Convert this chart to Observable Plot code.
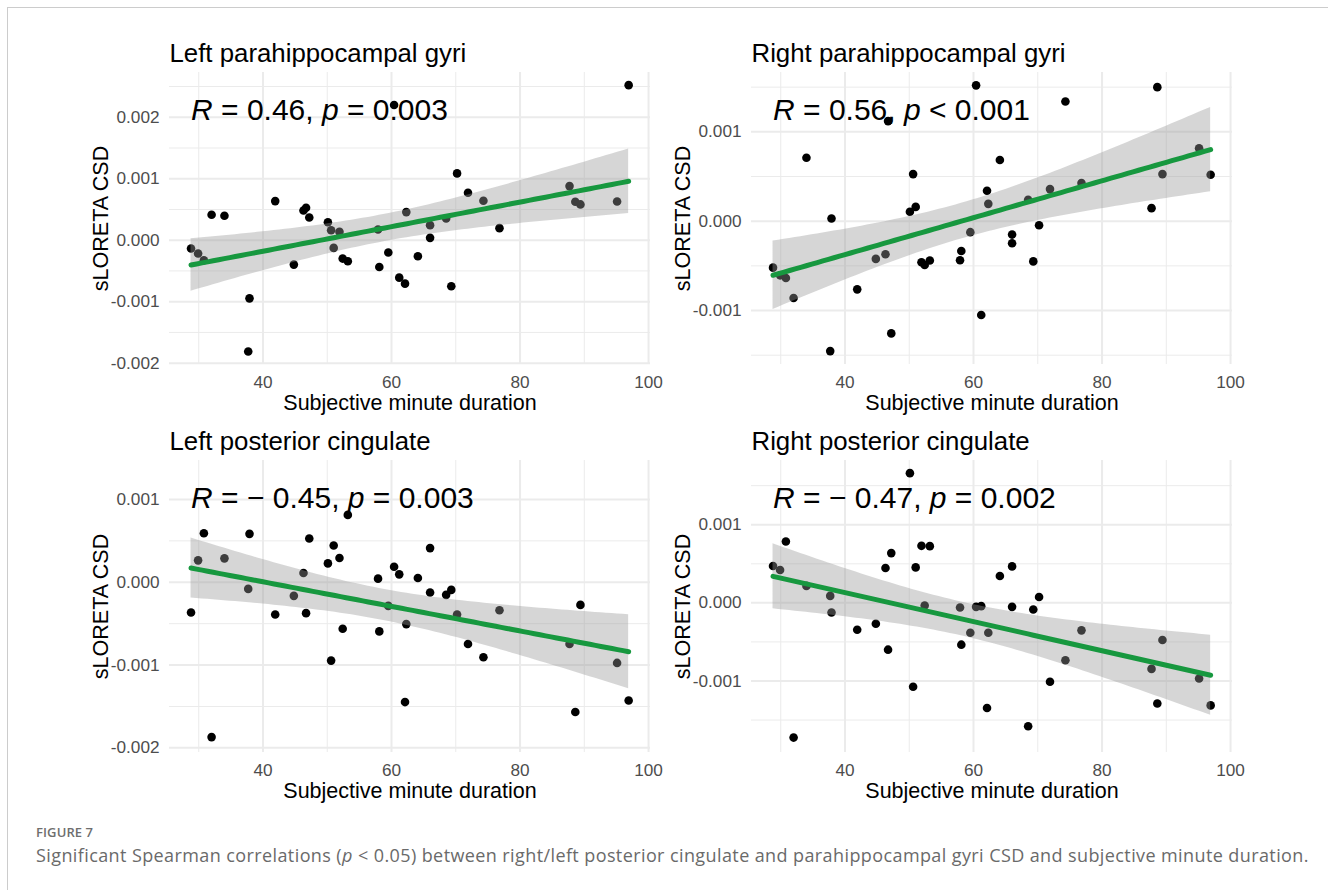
<!DOCTYPE html>
<html>
<head>
<meta charset="utf-8">
<script src="https://cdn.jsdelivr.net/npm/d3@7"></script>
<script src="https://cdn.jsdelivr.net/npm/@observablehq/plot@0.6"></script>
<style>
html, body { margin: 0; padding: 0; background: #fff; }
#wrap { position: relative; width: 1328px; height: 890px; overflow: hidden; background: #fff; }
#frame { position: absolute; left: 7px; top: 7px; right: 0; bottom: 0; border-left: 1px solid #cccccc; border-top: 1px solid #cccccc; }
.panel { position: absolute; }
.panel svg { overflow: visible; background: transparent; }
#figlabel { position: absolute; left: 36px; top: 825px; font-family: "Open Sans", "Noto Sans", sans-serif; font-size: 13px; line-height: 14px; font-weight: 600; color: #6e6e6e; letter-spacing: 0.1px; }
#figcaption { position: absolute; left: 36px; top: 846px; font-family: "Open Sans", "Noto Sans", sans-serif; font-size: 18px; line-height: 18px; letter-spacing: 0.4px; color: #6a6a6a; white-space: nowrap; }
</style>
</head>
<body>
<div id="wrap">
  <div id="frame"></div>
  <div class="panel" id="p0" style="left:0px;top:0px"></div>
  <div class="panel" id="p1" style="left:582px;top:0px"></div>
  <div class="panel" id="p2" style="left:0px;top:420px"></div>
  <div class="panel" id="p3" style="left:582px;top:420px"></div>
  <div id="figlabel">FIGURE 7</div>
  <div id="figcaption">Significant Spearman correlations (<i>p</i> &lt; 0.05) between right/left posterior cingulate and parahippocampal gyri CSD and subjective minute duration.</div>
</div>
<script>
// ---- data ----
const panelTitles = ["Left parahippocampal gyri", "Right parahippocampal gyri", "Left posterior cingulate", "Right posterior cingulate"];
const rValues = ["0.46", "0.56", "\u2212 0.45", "\u2212 0.47"];
const pValues = ["= 0.003", "< 0.001", "= 0.003", "= 0.002"];

const minuteDuration = [28.8, 29.9, 30.8, 32.0, 34.0, 37.7, 37.9, 41.9, 44.8, 46.3, 46.7, 47.2, 50.1, 50.6, 51.0, 51.9, 52.4, 53.2, 57.9, 58.1, 59.5, 60.4, 61.2, 62.1, 62.3, 64.1, 66.0, 66.0, 68.5, 69.3, 70.2, 71.9, 74.3, 76.8, 87.7, 88.6, 89.4, 95.1, 96.9];

const csdLeftParahippocampal = [-0.000136, -0.000217, -0.000326, 0.000413, 0.000397, -0.00181, -0.000946, 0.000636, -0.000397, 0.000484, 0.000527, 0.000370, 0.000293, 0.000163, -0.000125, 0.000136, -0.000299, -0.000342, 0.000174, -0.000435, -0.000201, 0.0022, -0.000609, -0.000707, 0.000457, -0.000261, 0.000245, 0.000038, 0.000353, -0.00075, 0.001087, 0.000772, 0.000641, 0.000196, 0.00088, 0.000625, 0.000582, 0.00063, 0.002522];

const csdRightParahippocampal = [-0.00052, -0.000606, -0.000636, -0.00086, 0.00071, -0.001454, 0.00003, -0.000763, -0.000422, -0.00037, 0.00112, -0.001256, 0.000105, 0.000527, 0.00016, -0.00046, -0.00049, -0.00044, -0.000437, -0.000333, -0.000123, 0.00152, -0.00105, 0.00034, 0.000194, 0.000684, -0.00015, -0.000247, 0.00024, -0.00045, -0.000045, 0.000359, 0.00134, 0.000426, 0.000146, 0.0015, 0.000527, 0.000815, 0.00052];

const csdLeftCingulate = [-0.000365, 0.000265, 0.000593, -0.00187, 0.000289, -0.00008, 0.000585, -0.000389, -0.000164, 0.000112, -0.000373, 0.000529, 0.000228, -0.000946, 0.000445, 0.000293, -0.000561, 0.000814, 0.000044, -0.000593, -0.000285, 0.000188, 0.000096, -0.001447, -0.000505, 0.000052, 0.000413, -0.000124, -0.000152, -0.000092, -0.000389, -0.000745, -0.000906, -0.000337, -0.000745, -0.001567, -0.000273, -0.000974, -0.001427];

const csdRightCingulate = [0.000471, 0.00042, 0.000786, -0.001724, 0.000217, 0.000089, -0.000123, -0.000344, -0.000268, 0.000446, -0.000599, 0.000637, 0.00166, -0.001074, 0.000454, 0.00073, -0.000034, 0.000726, -0.000059, -0.000535, -0.000382, -0.000051, -0.000042, -0.001346, -0.000382, 0.000344, 0.000467, -0.000051, -0.00158, -0.000085, 0.000076, -0.00101, -0.000735, -0.000352, -0.000845, -0.001287, -0.000476, -0.000968, -0.001312];

const xTicks = [40, 60, 80, 100];
const xMinorTicks = [30, 50, 70, 90];
const xDomain = [25.45, 100.3];
const yTicksList = [
  [-0.002, -0.001, 0, 0.001, 0.002],
  [-0.001, 0, 0.001],
  [-0.002, -0.001, 0, 0.001],
  [-0.001, 0, 0.001]
];
const yMinorList = [
  [-0.0015, -0.0005, 0.0005, 0.0015, 0.0025],
  [-0.0015, -0.0005, 0.0005, 0.0015],
  [-0.0015, -0.0005, 0.0005],
  [-0.0015, -0.0005, 0.0005, 0.0015]
];
const yDomains = [
  [-0.002022, 0.002728],
  [-0.001604, 0.001664],
  [-0.002056, 0.001471],
  [-0.001915, 0.001822]
];
const seriesList = [csdLeftParahippocampal, csdRightParahippocampal, csdLeftCingulate, csdRightCingulate];

// ---- linear model with 95% confidence band (like geom_smooth(method = "lm")) ----
function lmBand(xs, ys) {
  const n = xs.length;
  const mx = d3.mean(xs), my = d3.mean(ys);
  let sxx = 0, sxy = 0;
  for (let i = 0; i < n; i++) { sxx += (xs[i] - mx) ** 2; sxy += (xs[i] - mx) * (ys[i] - my); }
  const b = sxy / sxx, a = my - b * mx;
  let sse = 0;
  for (let i = 0; i < n; i++) sse += (ys[i] - (a + b * xs[i])) ** 2;
  const s = Math.sqrt(sse / (n - 2));
  const t = 2.0262;
  const [x0, x1] = d3.extent(xs);
  const out = [];
  for (let k = 0; k < 80; k++) {
    const x = x0 + (x1 - x0) * k / 79;
    const fit = a + b * x;
    const se = s * Math.sqrt(1 / n + (x - mx) ** 2 / sxx);
    out.push({x, fit, lo: fit - t * se, hi: fit + t * se});
  }
  return out;
}

const font = '"Liberation Sans", Arial, Helvetica, sans-serif';
const grid = "#ebebeb";

seriesList.forEach((ys, i) => {
  const pts = minuteDuration.map((x, j) => ({x, y: ys[j]}));
  const band = lmBand(minuteDuration, ys);
  const minX = d3.min(minuteDuration);
  const labelText = `R = ${rValues[i]}, p ${pValues[i]}`;
  const top = i < 2;
  const mTop = top ? 72 : 40;
  const chart = Plot.plot({
    width: 664,
    height: top ? 420 : 388,
    marginLeft: 169,
    marginRight: 14,
    marginTop: mTop,
    marginBottom: 56,
    style: {fontFamily: font, background: "transparent", overflow: "visible"},
    x: {domain: xDomain},
    y: {domain: yDomains[i]},
    marks: [
      Plot.ruleX(xMinorTicks, {stroke: grid, strokeWidth: 1}),
      Plot.ruleY(yMinorList[i], {stroke: grid, strokeWidth: 1}),
      Plot.ruleX(xTicks, {stroke: grid, strokeWidth: 2}),
      Plot.ruleY(yTicksList[i], {stroke: grid, strokeWidth: 2}),
      Plot.axisX(xTicks, {tickSize: 0, tickPadding: 11, fontSize: 17.2, color: "#4d4d4d", label: null}),
      Plot.axisY(yTicksList[i], {tickSize: 0, tickPadding: 10, fontSize: 17.2, color: "#4d4d4d", label: null, tickFormat: d => d.toFixed(3)}),
      Plot.dot(pts, {x: "x", y: "y", r: 4.3, fill: "black", stroke: "none"}),
      Plot.areaY(band, {x: "x", y1: "lo", y2: "hi", fill: "#999999", fillOpacity: 0.4}),
      Plot.line(band, {x: "x", y: "fit", stroke: "#17983f", strokeWidth: 5}),
      Plot.text([labelText], {x: () => minX, frameAnchor: "top", dy: 47, lineAnchor: "bottom", textAnchor: "start", fontSize: 30, fill: "black"}),
      Plot.text([panelTitles[i]], {frameAnchor: "top-left", dy: -10.5, lineAnchor: "bottom", textAnchor: "start", fontSize: 25.8, fill: "black"}),
      Plot.text(["Subjective minute duration"], {frameAnchor: "bottom", dy: 45, lineAnchor: "bottom", textAnchor: "middle", fontSize: 21.5, fill: "black"}),
      Plot.text(["sLORETA CSD"], {frameAnchor: "left", dx: -62, rotate: -90, lineAnchor: "bottom", textAnchor: "middle", fontSize: 21.5, fill: "black"})
    ]
  });
  // italic R and p in the correlation label
  d3.select(chart).selectAll("text").filter(function() { return this.textContent === labelText; }).each(function() {
    const el = d3.select(this);
    el.text(null);
    el.append("tspan").attr("font-style", "italic").text("R");
    el.append("tspan").text(` = ${rValues[i]}, `);
    el.append("tspan").attr("font-style", "italic").text("p");
    el.append("tspan").text(` ${pValues[i]}`);
  });
  document.getElementById("p" + i).appendChild(chart);
});
</script>
</body>
</html>
